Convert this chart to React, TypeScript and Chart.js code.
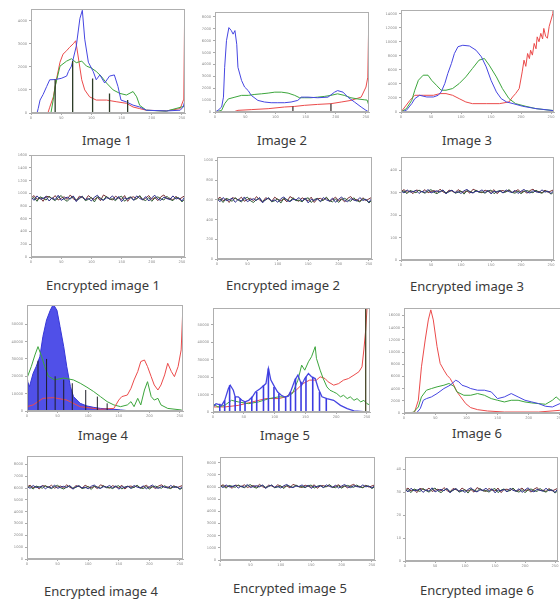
import React, { useEffect, useRef } from 'react';
import { Chart, registerables } from 'chart.js';

Chart.register(...registerables);

type Pt = [number, number];

// ---------- data ----------
const X_TICKS = [0, 50, 100, 150, 200, 250];
const X_MAX = 255;

const IMG1_YTICKS = [0, 1000, 2000, 3000, 4000];
const IMG2_YTICKS = [0, 1000, 2000, 3000, 4000, 5000, 6000, 7000, 8000];
const IMG3_YTICKS = [0, 2000, 4000, 6000, 8000, 10000, 12000, 14000];
const IMG4_YTICKS = [0, 10000, 20000, 30000, 40000, 50000];
const IMG5_YTICKS = [0, 10000, 20000, 30000, 40000, 50000];
const IMG6_YTICKS = [0, 2000, 4000, 6000, 8000, 10000, 12000, 14000, 16000];
const ENC1_YTICKS = [0, 200, 400, 600, 800, 1000, 1200, 1400, 1600];
const ENC2_YTICKS = [0, 200, 400, 600, 800, 1000];
const ENC3_YTICKS = [0, 100, 200, 300, 400];
const ENC4_YTICKS = [0, 1000, 2000, 3000, 4000, 5000, 6000, 7000, 8000];
const ENC5_YTICKS = [0, 1000, 2000, 3000, 4000, 5000, 6000, 7000, 8000];
const ENC6_YTICKS = [0, 10, 20, 30, 40];

const IMG1_BLUE: Pt[] = [[0,0],[10,0],[12,200],[15,560],[20,800],[26,1150],[31,1440],[40,1450],[50,1500],[59,1600],[62,1800],[67,2030],[75,2900],[81,4100],[85,4450],[89,3200],[95,2200],[103,1800],[108,1440],[114,1650],[122,1300],[130,1600],[138,1650],[144,1150],[149,560],[158,480],[169,340],[180,260],[191,120],[224,90],[247,120],[252,260],[255,560]];
const IMG1_RED: Pt[] = [[0,0],[28,0],[31,250],[37,700],[42,1440],[48,2200],[53,2550],[59,2700],[64,2850],[70,3000],[74,3130],[78,2470],[84,1440],[89,1000],[97,700],[108,560],[125,560],[141,490],[158,420],[169,260],[180,190],[191,120],[224,90],[247,190],[253,600],[255,6000]];
const IMG1_GREEN: Pt[] = [[0,0],[33,0],[37,600],[40,1150],[48,2030],[59,2250],[67,2350],[75,2180],[84,2250],[92,2030],[100,1950],[108,1800],[116,1600],[125,1300],[136,1000],[147,850],[158,780],[169,930],[175,700],[180,330],[191,120],[224,80],[255,300]];
const IMG1_STEMS: Pt[] = [[40,1450],[69,2250],[102,1500],[130,850],[160,560]];

const IMG2_BLUE: Pt[] = [[0,0],[5,140],[11,420],[14,1250],[16,3760],[19,6000],[23,7100],[27,6850],[30,6550],[33,6850],[36,5700],[38,3760],[44,2650],[49,2100],[55,1800],[60,1400],[71,975],[82,840],[93,780],[104,780],[115,780],[126,840],[137,975],[143,1250],[154,1250],[170,1200],[187,1250],[198,1670],[203,1800],[212,1670],[220,1250],[231,840],[242,420],[250,140],[255,0]];
const IMG2_GREEN: Pt[] = [[0,0],[11,140],[16,700],[22,1100],[33,1250],[44,1400],[55,1400],[66,1480],[77,1530],[88,1590],[99,1670],[110,1670],[121,1590],[132,1400],[140,1200],[148,1200],[159,1200],[170,1250],[181,1310],[192,1400],[203,1530],[214,1400],[225,1200],[236,1100],[247,1030],[252,1000],[255,500]];
const IMG2_RED: Pt[] = [[0,0],[30,0],[38,140],[60,200],[88,280],[115,420],[132,470],[148,560],[170,640],[192,700],[209,840],[225,975],[242,1250],[250,2100],[253,2930],[255,9000]];
const IMG2_STEMS: Pt[] = [[129,470],[192,700]];

const IMG3_BLUE: Pt[] = [[0,0],[9,240],[18,1200],[23,1900],[31,2380],[43,2140],[54,2140],[62,2380],[67,2860],[73,4050],[78,5480],[84,6900],[89,8330],[95,9300],[103,9500],[114,9400],[125,8800],[134,7860],[142,6430],[150,4520],[159,2860],[167,1900],[176,1430],[187,1190],[203,810],[225,480],[250,240],[255,200]];
const IMG3_GREEN: Pt[] = [[0,0],[9,480],[18,1670],[23,3100],[29,4520],[37,5240],[45,5240],[51,4520],[59,3810],[67,3100],[75,3100],[86,3340],[97,4050],[108,5000],[119,6190],[130,7380],[139,7620],[147,6670],[159,5000],[169,3340],[180,1900],[191,1190],[208,810],[225,480],[250,240],[255,200]];
const IMG3_RED: Pt[] = [[0,0],[15,1670],[23,2380],[37,2380],[54,2380],[65,2620],[75,2620],[86,2380],[97,1900],[108,1430],[119,1190],[142,1190],[164,1190],[180,1430],[186,2140],[191,2620],[197,3340],[202,5710],[205,7380],[208,6500],[211,8330],[214,7600],[216,8800],[219,8100],[222,9760],[225,9000],[227,10700],[230,10000],[233,11200],[236,10400],[238,11900],[241,10800],[244,10500],[247,12200],[250,13100],[253,14000],[255,16000]];

const IMG4_BLUE: Pt[] = [[0,17900],[4,14000],[10,21700],[15,25600],[21,31300],[26,42900],[32,52500],[38,58000],[43,61500],[49,58000],[54,48600],[60,37100],[65,25600],[71,14000],[76,8300],[87,4400],[98,2900],[109,2100],[120,1500],[142,1000],[153,600],[165,200],[180,0],[255,0]];
const IMG4_GREEN: Pt[] = [[0,19000],[7,25600],[13,32300],[18,37100],[24,31300],[29,25600],[35,20000],[45,18000],[60,19000],[76,17900],[87,16000],[98,13700],[109,11200],[120,8300],[131,5400],[142,3500],[153,2500],[164,3500],[170,5400],[175,2500],[181,7300],[186,3500],[192,12100],[197,16900],[203,8300],[208,6300],[214,7300],[219,3500],[230,1500],[252,600],[255,0]];
const IMG4_RED: Pt[] = [[0,2500],[10,3500],[26,7300],[43,7700],[65,6300],[87,2500],[120,1000],[142,1500],[150,6300],[155,8300],[164,9200],[170,13100],[175,17900],[181,22700],[186,28500],[192,29400],[197,25600],[203,19800],[208,15000],[214,12100],[219,15000],[225,20800],[230,27500],[236,22700],[241,19800],[247,25600],[252,35200],[254,52500],[255,64000]];
const IMG4_STEMS: Pt[] = [[1,17900],[18,29000],[32,30000],[46,20000],[60,18000],[74,16000],[96,12100],[115,8300],[131,4400]];

const IMG5_BLUE: Pt[] = [[0,2900],[5,4800],[14,3800],[19,6700],[25,13500],[28,15400],[33,12500],[36,8700],[41,8700],[47,6700],[52,5800],[58,6700],[64,8700],[69,11500],[77,13500],[86,16300],[90,25000],[94,18300],[100,14400],[105,11500],[111,9600],[116,8700],[122,9000],[127,12500],[133,18300],[138,21200],[141,18300],[144,15400],[149,19200],[155,22100],[160,20200],[166,19200],[171,13500],[177,8700],[185,7700],[196,6700],[207,3800],[218,1900],[229,600],[250,0],[255,0]];
const IMG5_GREEN: Pt[] = [[0,4800],[8,2900],[19,3800],[30,6700],[41,5800],[58,4800],[74,5800],[91,7700],[107,8700],[118,8700],[129,10600],[138,18300],[144,26900],[149,24000],[155,28800],[160,31700],[166,37500],[168,30800],[174,24000],[179,19200],[185,14400],[190,12500],[196,11500],[201,10600],[207,8700],[212,9600],[218,7700],[223,8700],[229,6700],[234,7700],[240,5800],[245,6700],[250,4800],[255,4000]];
const IMG5_RED: Pt[] = [[0,2900],[19,2900],[41,3800],[64,5800],[86,7700],[107,7700],[118,8700],[135,12500],[146,16300],[157,18300],[168,18300],[174,20200],[182,19200],[187,17300],[196,15400],[204,16300],[212,18300],[220,19200],[229,21200],[237,23100],[242,25900],[245,35600],[248,47100],[250,58500],[252,64000]];
const IMG5_STEMS: Pt[] = [[0,8700],[11,4800],[19,6700],[27,15400],[36,8700],[44,7700],[52,5800],[63,8700],[71,11500],[82,15400],[90,25000],[99,14400],[107,10600],[118,8700],[126,11500],[134,19200],[143,17300],[151,20200],[162,20200],[173,11500],[184,7700]];
const IMG5_EDGE: Pt[] = [[248,64000]];

const IMG6_RED: Pt[] = [[0,0],[9,0],[17,160],[23,2090],[28,7580],[34,11980],[39,15270],[43,16920],[47,15270],[53,10880],[58,8130],[64,7030],[69,6200],[74,5660],[80,4560],[85,3460],[91,2640],[99,1540],[107,880],[118,550],[134,330],[161,160],[216,160],[250,440],[255,500]];
const IMG6_GREEN: Pt[] = [[0,0],[15,110],[23,990],[28,2640],[36,3740],[44,4010],[53,4290],[64,4560],[72,4840],[80,4400],[85,3460],[96,2910],[107,2910],[118,3190],[129,2910],[140,2360],[150,2090],[161,1810],[172,2090],[183,2090],[194,1810],[205,1650],[216,1540],[227,1430],[238,2090],[244,2640],[250,2090],[255,2000]];
const IMG6_BLUE: Pt[] = [[0,0],[20,0],[26,710],[31,2090],[36,2360],[44,2640],[53,3190],[64,4010],[74,4560],[83,5380],[88,5110],[93,4560],[101,4290],[107,4010],[118,3740],[129,3740],[140,3460],[150,2360],[161,2640],[172,3190],[183,2640],[194,2090],[205,1810],[216,1540],[227,1100],[238,990],[250,1540],[255,1500]];

const ENC_X = [0,5,10,15,20,25,30,35,40,45,50,55,60,65,70,75,80,85,90,95,100,105,110,115,120,125,130,135,140,145,150,155,160,165,170,175,180,185,190,195,200,205,210,215,220,225,230,235,240,245,250,255];

const ENC1_BLUE = [940,890,960,910,920,950,880,930,900,970,890,920,940,910,960,870,930,950,900,920,880,940,970,910,890,930,920,960,900,950,870,930,910,940,890,960,920,900,950,880,930,970,910,890,940,920,900,960,910,930,880,950];
const ENC1_GREEN = [905,935,875,945,925,895,955,915,885,935,965,905,875,925,945,895,915,955,885,905,935,865,945,925,895,955,905,915,885,935,955,875,925,945,895,915,965,905,885,935,875,925,945,915,895,955,905,885,935,925,865,915];
const ENC1_RED = [925,965,905,935,875,955,945,915,965,895,925,945,905,975,915,885,955,935,895,965,925,905,935,885,975,945,915,895,955,925,905,965,875,935,945,915,955,895,925,965,905,935,885,945,975,915,925,895,955,905,935,965];

const ENC2_BLUE = [612,582,624,594,600,618,576,606,588,630,582,600,612,594,624,570,606,618,588,600,576,612,630,594,582,606,600,624,588,618,570,606,594,612,582,624,600,588,618,576,606,630,594,582,612,600,588,624,594,606,576,618];
const ENC2_GREEN = [592,610,574,616,604,586,622,598,580,610,628,592,574,604,616,586,598,622,580,592,610,568,616,604,586,622,592,598,580,610,622,574,604,616,586,598,628,592,580,610,574,604,616,598,586,622,592,580,610,604,568,598];
const ENC2_RED = [604,628,592,610,574,622,616,598,628,586,604,616,592,634,598,580,622,610,586,628,604,592,610,580,634,616,598,586,622,604,592,628,574,610,616,598,622,586,604,628,592,610,580,616,634,598,604,586,622,592,610,628];

const ENC3_BLUE = [309,299,313,303,305,311,297,307,301,315,299,305,309,303,313,295,307,311,301,305,297,309,315,303,299,307,305,313,301,311,295,307,303,309,299,313,305,301,311,297,307,315,303,299,309,305,301,313,303,307,297,311];
const ENC3_GREEN = [302,308,296,310,306,300,312,304,298,308,314,302,296,306,310,300,304,312,298,302,308,294,310,306,300,312,302,304,298,308,312,296,306,310,300,304,314,302,298,308,296,306,310,304,300,312,302,298,308,306,294,304];
const ENC3_RED = [306,314,302,308,296,312,310,304,314,300,306,310,302,316,304,298,312,308,300,314,306,302,308,298,316,310,304,300,312,306,302,314,296,308,310,304,312,300,306,314,302,308,298,310,316,304,306,300,312,302,308,314];

const ENC4_BLUE = [6150,5975,6220,6045,6080,6185,5940,6115,6010,6255,5975,6080,6150,6045,6220,5905,6115,6185,6010,6080,5940,6150,6255,6045,5975,6115,6080,6220,6010,6185,5905,6115,6045,6150,5975,6220,6080,6010,6185,5940,6115,6255,6045,5975,6150,6080,6010,6220,6045,6115,5940,6185];
const ENC4_GREEN = [6025,6130,5920,6165,6095,5990,6200,6060,5955,6130,6235,6025,5920,6095,6165,5990,6060,6200,5955,6025,6130,5885,6165,6095,5990,6200,6025,6060,5955,6130,6200,5920,6095,6165,5990,6060,6235,6025,5955,6130,5920,6095,6165,6060,5990,6200,6025,5955,6130,6095,5885,6060];
const ENC4_RED = [6100,6240,6030,6135,5925,6205,6170,6065,6240,5995,6100,6170,6030,6275,6065,5960,6205,6135,5995,6240,6100,6030,6135,5960,6275,6170,6065,5995,6205,6100,6030,6240,5925,6135,6170,6065,6205,5995,6100,6240,6030,6135,5960,6170,6275,6065,6100,5995,6205,6030,6135,6240];

const ENC5_BLUE = [6114,5954,6178,6018,6050,6146,5922,6082,5986,6210,5954,6050,6114,6018,6178,5890,6082,6146,5986,6050,5922,6114,6210,6018,5954,6082,6050,6178,5986,6146,5890,6082,6018,6114,5954,6178,6050,5986,6146,5922,6082,6210,6018,5954,6114,6050,5986,6178,6018,6082,5922,6146];
const ENC5_GREEN = [6008,6104,5912,6136,6072,5976,6168,6040,5944,6104,6200,6008,5912,6072,6136,5976,6040,6168,5944,6008,6104,5880,6136,6072,5976,6168,6008,6040,5944,6104,6168,5912,6072,6136,5976,6040,6200,6008,5944,6104,5912,6072,6136,6040,5976,6168,6008,5944,6104,6072,5880,6040];
const ENC5_RED = [6060,6188,5996,6092,5900,6156,6124,6028,6188,5964,6060,6124,5996,6220,6028,5932,6156,6092,5964,6188,6060,5996,6092,5932,6220,6124,6028,5964,6156,6060,5996,6188,5900,6092,6124,6028,6156,5964,6060,6188,5996,6092,5932,6124,6220,6028,6060,5964,6156,5996,6092,6188];

const ENC6_BLUE = [31.3,30.2,31.8,30.7,30.9,31.6,30.0,31.1,30.5,32.0,30.2,30.9,31.3,30.7,31.8,29.8,31.1,31.6,30.5,30.9,30.0,31.3,32.0,30.7,30.2,31.1,30.9,31.8,30.5,31.6,29.8,31.1,30.7,31.3,30.2,31.8,30.9,30.5,31.6,30.0,31.1,32.0,30.7,30.2,31.3,30.9,30.5,31.8,30.7,31.1,30.0,31.6];
const ENC6_GREEN = [30.6,31.2,29.9,31.5,31.0,30.4,31.7,30.8,30.1,31.2,31.9,30.6,29.9,31.0,31.5,30.4,30.8,31.7,30.1,30.6,31.2,29.7,31.5,31.0,30.4,31.7,30.6,30.8,30.1,31.2,31.7,29.9,31.0,31.5,30.4,30.8,31.9,30.6,30.1,31.2,29.9,31.0,31.5,30.8,30.4,31.7,30.6,30.1,31.2,31.0,29.7,30.8];
const ENC6_RED = [31.0,31.9,30.6,31.2,29.9,31.7,31.4,30.8,31.9,30.4,31.0,31.4,30.6,32.1,30.8,30.1,31.7,31.2,30.4,31.9,31.0,30.6,31.2,30.1,32.1,31.4,30.8,30.4,31.7,31.0,30.6,31.9,29.9,31.2,31.4,30.8,31.7,30.4,31.0,31.9,30.6,31.2,30.1,31.4,32.1,30.8,31.0,30.4,31.7,30.6,31.2,31.9];

// ---------- styling ----------
const BLUE = 'rgb(70,70,225)';
const GREEN = 'rgb(60,165,60)';
const RED = 'rgb(235,75,75)';
const E_BLUE = 'rgb(50,50,140)';
const E_GREEN = 'rgb(50,95,55)';
const E_RED = 'rgb(120,50,55)';

type Series = { pts: Pt[]; color: string; width?: number; fill?: string };
type Stems = { pts: Pt[]; color: string; width: number };
type PanelSpec = {
  caption: string;
  cap: [number, number];
  plot: [number, number, number, number];
  yMax: number;
  yTicks: number[];
  stems?: Stems[];
  series: Series[];
};

const enc = (vals: number[]): Pt[] => ENC_X.map((x, i) => [x, vals[i]] as Pt);

const PANELS: PanelSpec[] = [
  { caption: 'Image 1', cap: [107, 140], plot: [31, 9, 154, 104], yMax: 4500, yTicks: IMG1_YTICKS,
    stems: [{ pts: IMG1_STEMS, color: 'rgb(45,60,40)', width: 1.3 }],
    series: [{ pts: IMG1_BLUE, color: BLUE }, { pts: IMG1_GREEN, color: GREEN }, { pts: IMG1_RED, color: RED }] },
  { caption: 'Image 2', cap: [282, 140], plot: [215, 12, 154, 100], yMax: 8400, yTicks: IMG2_YTICKS,
    stems: [{ pts: IMG2_STEMS, color: 'rgb(50,40,40)', width: 1.2 }],
    series: [{ pts: IMG2_BLUE, color: BLUE }, { pts: IMG2_GREEN, color: GREEN }, { pts: IMG2_RED, color: RED }] },
  { caption: 'Image 3', cap: [467, 140], plot: [401, 10, 153, 102], yMax: 14500, yTicks: IMG3_YTICKS,
    series: [{ pts: IMG3_BLUE, color: BLUE }, { pts: IMG3_GREEN, color: GREEN }, { pts: IMG3_RED, color: RED }] },
  { caption: 'Encrypted image 1', cap: [103, 285], plot: [31, 155, 154, 102], yMax: 1600, yTicks: ENC1_YTICKS,
    series: [{ pts: enc(ENC1_BLUE), color: E_BLUE }, { pts: enc(ENC1_GREEN), color: E_GREEN }, { pts: enc(ENC1_RED), color: E_RED }] },
  { caption: 'Encrypted image 2', cap: [283, 285], plot: [217, 157, 155, 102], yMax: 1034, yTicks: ENC2_YTICKS,
    series: [{ pts: enc(ENC2_BLUE), color: E_BLUE }, { pts: enc(ENC2_GREEN), color: E_GREEN }, { pts: enc(ENC2_RED), color: E_RED }] },
  { caption: 'Encrypted image 3', cap: [467, 286], plot: [401, 157, 153, 103], yMax: 459, yTicks: ENC3_YTICKS,
    series: [{ pts: enc(ENC3_BLUE), color: E_BLUE }, { pts: enc(ENC3_GREEN), color: E_GREEN }, { pts: enc(ENC3_RED), color: E_RED }] },
  { caption: 'Image 4', cap: [103, 435], plot: [27, 305, 156, 106], yMax: 61000, yTicks: IMG4_YTICKS,
    stems: [{ pts: IMG4_STEMS, color: 'rgb(30,30,40)', width: 1 }],
    series: [{ pts: IMG4_RED, color: RED }, { pts: IMG4_GREEN, color: GREEN }, { pts: IMG4_BLUE, color: 'rgb(55,55,215)', fill: 'rgba(65,65,230,0.92)' }] },
  { caption: 'Image 5', cap: [285, 435], plot: [213, 308, 157, 104], yMax: 59600, yTicks: IMG5_YTICKS,
    stems: [{ pts: IMG5_EDGE, color: 'rgb(70,70,40)', width: 1.3 }, { pts: IMG5_STEMS, color: 'rgb(60,60,225)', width: 1.6 }],
    series: [{ pts: IMG5_BLUE, color: BLUE, width: 1.3 }, { pts: IMG5_GREEN, color: GREEN }, { pts: IMG5_RED, color: RED }] },
  { caption: 'Image 6', cap: [477, 433], plot: [404, 308, 159, 105], yMax: 17200, yTicks: IMG6_YTICKS,
    series: [{ pts: IMG6_BLUE, color: BLUE }, { pts: IMG6_GREEN, color: GREEN }, { pts: IMG6_RED, color: RED }] },
  { caption: 'Encrypted image 4', cap: [101, 591], plot: [27, 456, 156, 103], yMax: 8700, yTicks: ENC4_YTICKS,
    series: [{ pts: enc(ENC4_BLUE), color: E_BLUE }, { pts: enc(ENC4_GREEN), color: E_GREEN }, { pts: enc(ENC4_RED), color: E_RED }] },
  { caption: 'Encrypted image 5', cap: [290, 588], plot: [220, 457, 155, 103], yMax: 8460, yTicks: ENC5_YTICKS,
    series: [{ pts: enc(ENC5_BLUE), color: E_BLUE }, { pts: enc(ENC5_GREEN), color: E_GREEN }, { pts: enc(ENC5_RED), color: E_RED }] },
  { caption: 'Encrypted image 6', cap: [477, 590], plot: [405, 457, 153, 104], yMax: 45.4, yTicks: ENC6_YTICKS,
    series: [{ pts: enc(ENC6_BLUE), color: E_BLUE }, { pts: enc(ENC6_GREEN), color: E_GREEN }, { pts: enc(ENC6_RED), color: E_RED }] },
];

const YW = 20;
const XH = 10;
const PT = 4;
const PR = 4;

const framePlugin = {
  id: 'frame',
  afterDraw(chart: any) {
    const { ctx, chartArea } = chart;
    ctx.save();
    ctx.strokeStyle = 'rgb(175,175,175)';
    ctx.lineWidth = 1;
    ctx.strokeRect(Math.round(chartArea.left) + 0.5, Math.round(chartArea.top) + 0.5,
      Math.round(chartArea.right - chartArea.left) - 1, Math.round(chartArea.bottom - chartArea.top) - 1);
    ctx.restore();
  },
};

function Panel({ spec }: { spec: PanelSpec }) {
  const ref = useRef<HTMLCanvasElement>(null);
  const [px, py, pw, ph] = spec.plot;
  const W = pw + YW + PR;
  const H = ph + PT + XH;

  useEffect(() => {
    if (!ref.current) return;
    const datasets: any[] = [];
    (spec.stems || []).forEach((s) => {
      const data: any[] = [];
      s.pts.forEach(([x, h]) => {
        data.push({ x, y: 0 }, { x, y: h }, { x, y: null });
      });
      datasets.push({ data, borderColor: s.color, borderWidth: s.width, pointRadius: 0, fill: false, spanGaps: false });
    });
    spec.series.forEach((s) => {
      datasets.push({
        data: s.pts.map(([x, y]) => ({ x, y })),
        borderColor: s.color,
        borderWidth: s.width ?? 1,
        pointRadius: 0,
        fill: s.fill ? 'origin' : false,
        backgroundColor: s.fill ?? 'transparent',
        tension: 0,
      });
    });
    const tickFont = { family: 'DejaVu Sans', size: 3.6 };
    const fmt = (v: any) => String(v);
    const chart = new Chart(ref.current, {
      type: 'line',
      data: { datasets },
      plugins: [framePlugin],
      options: {
        animation: false,
        responsive: false,
        devicePixelRatio: 1,
        layout: { padding: { top: PT, right: PR, left: 0, bottom: 0 } },
        plugins: { legend: { display: false }, tooltip: { enabled: false }, title: { display: false } },
        scales: {
          x: {
            type: 'linear', min: 0, max: X_MAX, offset: false,
            afterBuildTicks: (s: any) => { s.ticks = X_TICKS.map((v) => ({ value: v })); },
            ticks: { font: tickFont, color: '#888', padding: 1, maxRotation: 0, autoSkip: false, callback: fmt },
            grid: { drawOnChartArea: false, tickLength: 2, color: '#aaa' },
            border: { color: 'rgb(175,175,175)' },
            afterFit: (s: any) => { s.height = XH; },
          },
          y: {
            type: 'linear', min: 0, max: spec.yMax,
            afterBuildTicks: (s: any) => { s.ticks = spec.yTicks.map((v) => ({ value: v })); },
            ticks: { font: tickFont, color: '#888', padding: 2, autoSkip: false, callback: fmt },
            grid: { drawOnChartArea: false, tickLength: 2, color: '#aaa' },
            border: { color: 'rgb(175,175,175)' },
            afterFit: (s: any) => { s.width = YW; },
          },
        },
      } as any,
    });
    return () => chart.destroy();
  }, [spec]);

  return (
    <>
      <canvas ref={ref} width={W} height={H}
        style={{ position: 'absolute', left: px - YW, top: py - PT, width: W, height: H }} />
      <div style={{
        position: 'absolute', left: spec.cap[0] - 100, top: spec.cap[1] - 9, width: 200, height: 18,
        lineHeight: '18px', textAlign: 'center', fontFamily: '"Noto Sans", sans-serif', fontSize: 13, color: '#3a3a3a',
        whiteSpace: 'nowrap',
      }}>{spec.caption}</div>
    </>
  );
}

export default function App() {
  return (
    <div style={{ position: 'absolute', left: 0, top: 0, width: 560, height: 599, overflow: 'hidden', background: '#fff' }}>
      {PANELS.map((p) => <Panel key={p.caption} spec={p} />)}
    </div>
  );
}
